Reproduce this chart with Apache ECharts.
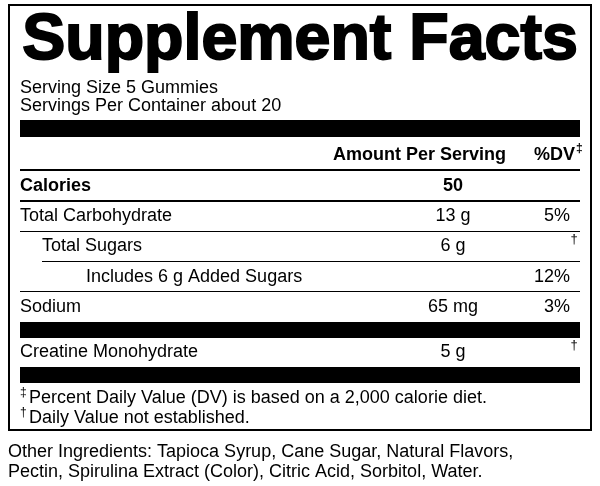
<!DOCTYPE html>
<html><head><meta charset="utf-8">
<script src="https://cdn.jsdelivr.net/npm/echarts@6/dist/echarts.min.js"></script>
<style>html,body{margin:0;background:#fff}#c{width:600px;height:486px}</style>
</head><body><div id="c"></div>
<script>
// label data
const title = "Supplement Facts";
const servingLines = ["Serving Size 5 Gummies", "Servings Per Container about 20"];
const nutrients = ["Calories", "Total Carbohydrate", "Total Sugars", "Includes 6 g Added Sugars", "Sodium", "Creatine Monohydrate"];
const amounts = ["50", "13 g", "6 g", "", "65 mg", "5 g"];
const dailyValues = ["", "5%", "\u2020", "12%", "3%", "\u2020"];
const footnotes = ["\u2021 Percent Daily Value (DV) is based on a 2,000 calorie diet.", "\u2020 Daily Value not established."];
const ingredients = ["Other Ingredients: Tapioca Syrup, Cane Sugar, Natural Flavors,", "Pectin, Spirulina Extract (Color), Citric Acid, Sorbitol, Water."];

const font = "Liberation Sans, Arial, sans-serif";
const fs = 18;
const rowY = [186, 216, 246, 277, 307, 352];
const indent = [20, 20, 42, 86, 20, 20];
const lineBelow = [[20, 200, 2], [20, 231, 1], [42, 261, 1], [20, 291, 1], null, null];

const els = [];
const txt = (x, y, s, size, opt = {}) => els.push({
  type: "text", x, y,
  style: Object.assign({ text: s, font: `${opt.bold ? "bold " : ""}${size}px ${font}`, fill: "#000",
    textAlign: opt.align || "left", textVerticalAlign: "middle" }, opt.extra || {})
});
const rect = (x, y, w, h) => els.push({ type: "rect", shape: { x, y, width: w, height: h }, style: { fill: "#000" } });

// border
els.push({ type: "rect", shape: { x: 9, y: 5, width: 582, height: 425 }, style: { fill: "none", stroke: "#000", lineWidth: 2 } });
txt(300, 41, title, 64.5, { bold: true, align: "center", extra: { stroke: "#000", lineWidth: 2 } });
servingLines.forEach((s, i) => txt(20, 88 + i * 18, s, fs));
rect(20, 120, 560, 17);
txt(506, 155, "Amount Per Serving", fs, { bold: true, align: "right" });
txt(575, 155, "%DV", fs, { bold: true, align: "right" });
txt(576, 149, "\u2021", 12, { bold: true });
rect(20, 169, 560, 2);
nutrients.forEach((n, i) => {
  const bold = i === 0;
  txt(indent[i], rowY[i], n, fs, { bold });
  if (amounts[i]) txt(453, rowY[i], amounts[i], fs, { bold, align: "center" });
  if (dailyValues[i] === "\u2020") txt(574, rowY[i] - 7, "\u2020", 13, { align: "center" });
  else if (dailyValues[i]) txt(570, rowY[i], dailyValues[i], fs, { align: "right" });
  if (lineBelow[i]) rect(lineBelow[i][0], lineBelow[i][1], 580 - lineBelow[i][0], lineBelow[i][2]);
});
rect(20, 322, 560, 16);
rect(20, 367, 560, 16);
footnotes.forEach((f, i) => {
  txt(20, 393 + i * 20, f.charAt(0), 12);
  txt(29, 398 + i * 20, f.slice(2), fs);
});
ingredients.forEach((s, i) => txt(8, 452 + i * 20, s, fs));

const chart = echarts.init(document.getElementById("c"));
chart.setOption({ animation: false, graphic: { elements: els } });
</script></body></html>
